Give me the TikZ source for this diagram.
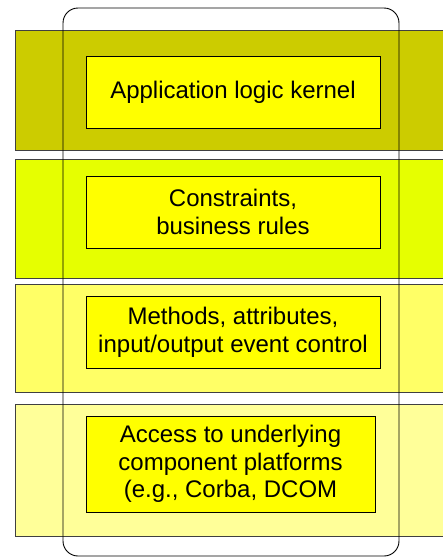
\documentclass[tikz,border=0pt]{standalone}
\usepackage{fontspec}
\setmainfont{Liberation Sans}
\definecolor{layerA}{RGB}{204,204,0}
\definecolor{layerB}{RGB}{230,255,0}
\definecolor{layerC}{RGB}{255,255,102}
\definecolor{layerD}{RGB}{255,255,153}
\definecolor{corefill}{RGB}{255,255,0}
\tikzset{
  layer/.style={draw=black!75, line width=0.8pt},
  corebox/.style={draw=black, line width=0.8pt, fill=corefill, align=center,
    inner sep=0pt, font=\fontsize{24}{27.6}\selectfont}
}
\begin{document}
\begin{tikzpicture}[x=1pt,y=-1pt]
      \useasboundingbox (0,0) rectangle (443,558);
      \draw [layer, fill=layerA] (15,30) rectangle (460,150);
      \draw [layer, fill=layerB] (15,159) rectangle (460,278);
      \draw [layer, fill=layerC] (15,284) rectangle (460,392);
      \draw [layer, fill=layerD] (15,404) rectangle (460,536);
      \node [corebox, minimum width=294pt, minimum height=72pt] (kernel) at (233,92) {Application logic kernel};
      \node [corebox, minimum width=294pt, minimum height=72pt] (rules) at (233,212) {Constraints,\\business rules};
      \node [corebox, minimum width=294pt, minimum height=72pt] (methods) at (233,332) {Methods, attributes,\\input/output event control};
      \node [corebox, minimum width=289pt, minimum height=96pt] (access) at (230.5,464) {Access to underlying\\component platforms\\(e.g., Corba, DCOM};
      \draw [line width=0.9pt, rounded corners=15pt] (63,8) rectangle (399,556);
    \end{tikzpicture}
\end{document}
